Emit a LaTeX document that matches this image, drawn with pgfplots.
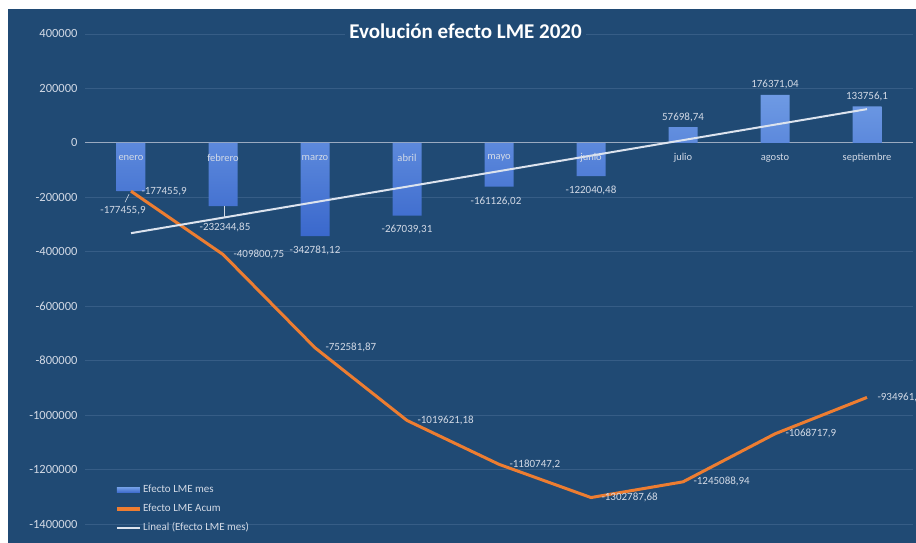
\documentclass[border=0pt]{standalone}
\usepackage{fontspec}
\setmainfont{Carlito}
\usepackage{pgfplots}
\pgfplotsset{compat=1.18}

\definecolor{fondo}{HTML}{204A74}
\definecolor{rejilla}{HTML}{365D86}
\definecolor{cero}{HTML}{9AAAC0}
\definecolor{barraclara}{HTML}{6E9AE4}
\definecolor{barraoscura}{HTML}{3A68CC}
\definecolor{naranja}{HTML}{ED7D31}
\definecolor{tendencia}{HTML}{DCE3EE}
\definecolor{textoclaro}{HTML}{D3DAE6}

\tikzset{
  etiq/.style={font=\fontsize{11}{13}\selectfont, text=textoclaro, inner sep=0pt},
  cat/.style={font=\fontsize{10.5}{12}\selectfont, text=textoclaro, yshift=-15pt, inner sep=0pt},
}

\begin{document}
\begin{tikzpicture}
% marco blanco y fondo azul del grafico
\fill[white] (-85pt,0) rectangle (831pt,543pt);
\fill[fondo] (-77pt,0) rectangle (831pt,534pt);
\begin{axis}[
  at={(0,0)}, anchor=south west,
  scale only axis, width=828pt, height=534pt,
  xmin=-0.5, xmax=8.5,
  ymin=-1469725, ymax=491743,
  xtick=\empty,
  ytick={-1400000,-1200000,-1000000,-800000,-600000,-400000,-200000,0,200000,400000},
  scaled y ticks=false,
  /pgf/number format/fixed,
  /pgf/number format/precision=0,
  /pgf/number format/1000 sep={},
  yticklabel style={font=\fontsize{12.5}{14}\selectfont, text=textoclaro,
    /pgf/number format/assume math mode=true, xshift=-4pt},
  ymajorgrids,
  grid style={rejilla, line width=0.8pt},
  extra y ticks={0}, extra y tick labels={},
  extra y tick style={grid style={cero, line width=1.1pt}},
  axis line style={draw=none},
  major tick length=0pt,
  clip=false,
  legend cell align=left,
  legend style={draw=none, fill=none, at={(axis description cs:0.0362,0.1077)},
    anchor=north west, inner sep=0pt, row sep=10pt,
    font=\fontsize{11}{13}\selectfont, text=textoclaro,
    nodes={inner ysep=0pt, inner xsep=1.5pt, text height=7pt, text depth=2pt}},
]
% Efecto LME mes
\addplot[ybar, bar width=29pt, draw=none, top color=barraclara, bottom color=barraoscura,
  legend image code/.code={\fill[barraclara!60!barraoscura] (0pt,-2.5pt) rectangle (23pt,2.5pt);}]
  coordinates {
  (0,-177455.9) (1,-232344.85) (2,-342781.12) (3,-267039.31) (4,-161126.02)
  (5,-122040.48) (6,57698.74) (7,176371.04) (8,133756.1)
};
\addlegendentry{Efecto LME mes}
% Efecto LME Acum
\addplot[naranja, line width=3pt, line join=round,
  legend image code/.code={\draw[naranja, line width=3.5pt] (0pt,0pt) -- (23pt,0pt);},
  nodes near coords, point meta=explicit symbolic,
  nodes near coords style={anchor=west, xshift=9pt, text=textoclaro, inner sep=0pt,
    font=\fontsize{11}{13}\selectfont}]
  coordinates {
  (0,-177455.9) [-177455,9]
  (1,-409800.75) [-409800,75]
  (2,-752581.87) [-752581,87]
  (3,-1019621.18) [-1019621,18]
  (4,-1180747.2) [-1180747,2]
  (5,-1302787.68) [-1302787,68]
  (6,-1245088.94) [-1245088,94]
  (7,-1068717.9) [-1068717,9]
  (8,-934961.8) [-934961,8]
};
\addlegendentry{Efecto LME Acum}
% Lineal (Efecto LME mes)
\addplot[tendencia, line width=2pt,
  legend image code/.code={\draw[tendencia, line width=2pt] (0pt,0pt) -- (23pt,0pt);}]
  coordinates {(0,-331681.6) (8,123912.3)};
\addlegendentry{Lineal (Efecto LME mes)}

% nombres de los meses
\node[cat] at (axis cs:0,0) {enero};
\node[cat] at (axis cs:1,0) {febrero};
\node[cat] at (axis cs:2,0) {marzo};
\node[cat] at (axis cs:3,0) {abril};
\node[cat] at (axis cs:4,0) {mayo};
\node[cat] at (axis cs:5,0) {junio};
\node[cat] at (axis cs:6,0) {julio};
\node[cat] at (axis cs:7,0) {agosto};
\node[cat] at (axis cs:8,0) {septiembre};

% etiquetas de las barras
\draw[textoclaro, line width=0.6pt] ([xshift=-2pt,yshift=-3pt]axis cs:0,-177455.9) -- ([xshift=-6pt,yshift=-11pt]axis cs:0,-177455.9);
\draw[textoclaro, line width=0.6pt] ([xshift=1pt]axis cs:1,-232344.85) -- ([xshift=1pt,yshift=-12pt]axis cs:1,-232344.85);
\node[etiq] at ([xshift=-8pt,yshift=-19.5pt]axis cs:0,-177455.9) {-177455,9};
\node[etiq] at ([xshift=2pt,yshift=-21pt]axis cs:1,-232344.85) {-232344,85};
\node[etiq] at ([yshift=-14pt]axis cs:2,-342781.12) {-342781,12};
\node[etiq] at ([yshift=-14pt]axis cs:3,-267039.31) {-267039,31};
\node[etiq] at ([xshift=-3pt,yshift=-15pt]axis cs:4,-161126.02) {-161126,02};
\node[etiq] at ([yshift=-14pt]axis cs:5,-122040.48) {-122040,48};
\node[etiq] at ([yshift=9.5pt]axis cs:6,57698.74) {57698,74};
\node[etiq] at ([yshift=10pt]axis cs:7,176371.04) {176371,04};
\node[etiq] at ([yshift=9.5pt]axis cs:8,133756.1) {133756,1};
\end{axis}
\node[fill=fondo, inner sep=4pt, text height=13pt, text depth=0pt, text=white,
  font=\bfseries\fontsize{21}{24}\selectfont] at (380.5pt,511pt) {Evolución efecto LME 2020};
\pgfresetboundingbox
\path[use as bounding box] (-85pt,0) rectangle (831pt,543pt);
\end{tikzpicture}
\end{document}
